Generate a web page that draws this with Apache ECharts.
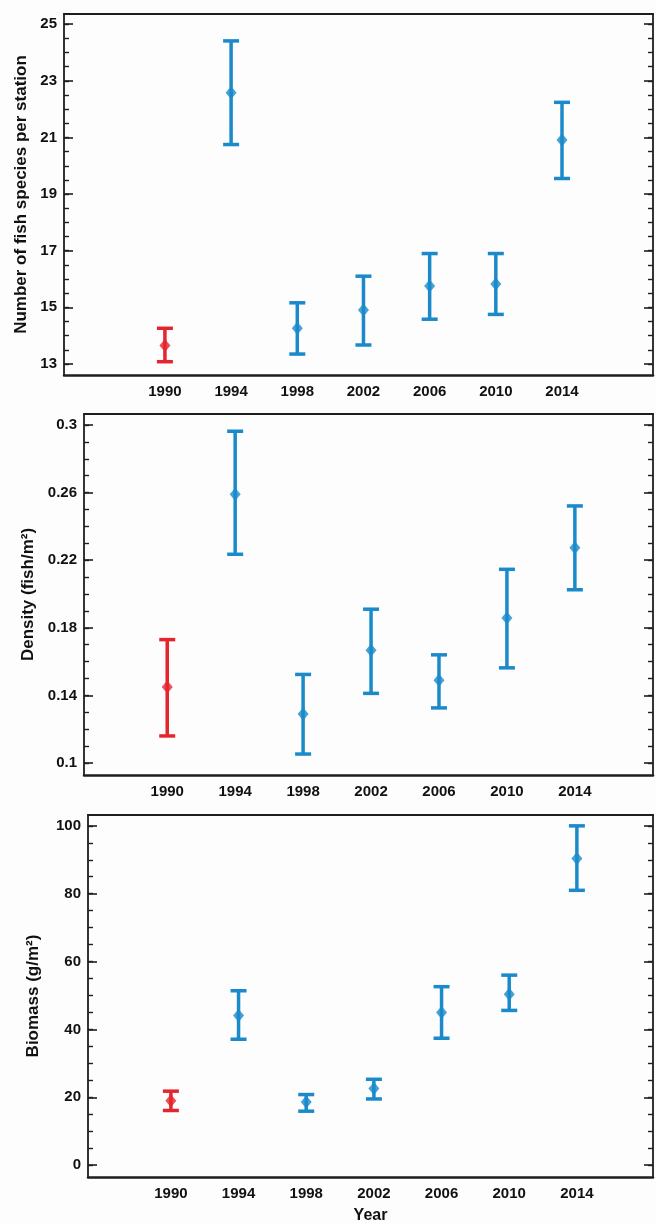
<!DOCTYPE html>
<html>
<head>
<meta charset="utf-8">
<script src="https://cdn.jsdelivr.net/npm/echarts@6/dist/echarts.min.js"></script>
<style>
  html, body { margin: 0; padding: 0; background: #fdfdfd; }
  #main { width: 656px; height: 1225px; }
</style>
</head>
<body>
<div id="main"></div>
<script>
// survey years (1990 = baseline, drawn in red)
var years = [1990, 1994, 1998, 2002, 2006, 2010, 2014];
var baselineYear = 1990;

// number of fish species per station: mean, lower, upper
var speciesMean = [13.65, 22.58, 14.26, 14.91, 15.75, 15.82, 20.91];
var speciesLow  = [13.08, 20.75, 13.35, 13.67, 14.58, 14.75, 19.55];
var speciesHigh = [14.26, 24.41, 15.16, 16.10, 16.90, 16.90, 22.24];

// density (fish/m2)
var densityMean = [0.145, 0.259, 0.129, 0.1667, 0.149, 0.1858, 0.2274];
var densityLow  = [0.116, 0.2235, 0.1053, 0.1412, 0.1326, 0.1563, 0.2025];
var densityHigh = [0.173, 0.2963, 0.1524, 0.191, 0.164, 0.2146, 0.2521];

// biomass (g/m2)
var biomassMean = [19.0, 44.1, 18.6, 22.6, 45.0, 50.4, 90.4];
var biomassLow  = [16.1, 37.1, 15.9, 19.5, 37.4, 45.6, 81.0];
var biomassHigh = [21.8, 51.4, 20.8, 25.3, 52.6, 56.0, 100.0];

// y tick labels
var speciesTicks = [13, 15, 17, 19, 21, 23, 25];
var densityTicks = [0.1, 0.14, 0.18, 0.22, 0.26, 0.3];
var biomassTicks = [0, 20, 40, 60, 80, 100];

var RED = '#e3262d';
var BLUE = '#1a8acb';
var AXIS = '#1e1e1e';
var FONT = '"Liberation Sans", Arial, sans-serif';

function colorFor(year) {
    return year === baselineYear ? RED : BLUE;
}

function minorValues(ticks, min, max) {
    var step = (ticks[1] - ticks[0]) / 4;
    var out = [];
    var start = ticks[0] - Math.floor((ticks[0] - min) / step) * step;
    for (var v = start; v <= max + 1e-9; v += step) {
        out.push(Math.round(v * 10000) / 10000);
    }
    return out;
}

var panels = [
    { name: 'Number of fish species per station', mean: speciesMean, low: speciesLow, high: speciesHigh,
      ticks: speciesTicks, yMin: 12.61, yMax: 25.36, xMin: 1983.9, xMax: 2019.5,
      left: 64, top: 14, height: 361, nameGap: 24 },
    { name: 'Density (fish/m\u00B2)', mean: densityMean, low: densityLow, high: densityHigh,
      ticks: densityTicks, yMin: 0.0929, yMax: 0.3065, xMin: 1985.1, xMax: 2018.6,
      left: 84, top: 414, height: 361, nameGap: 43 },
    { name: 'Biomass (g/m\u00B2)', mean: biomassMean, low: biomassLow, high: biomassHigh,
      ticks: biomassTicks, yMin: -3.5, yMax: 103.2, xMin: 1985.1, xMax: 2018.5,
      left: 88, top: 815, height: 362, nameGap: 46, xName: 'Year' }
];

var grids = [], xAxes = [], yAxes = [], series = [];

panels.forEach(function (p, i) {
    grids.push({ left: p.left, right: 3, top: p.top, height: p.height });

    // bottom axis with year labels
    xAxes.push({
        type: 'value', gridIndex: i, min: p.xMin, max: p.xMax,
        splitLine: { show: false },
        axisLine: { onZero: false, lineStyle: { color: AXIS, width: 2.5 } },
        axisTick: { show: false },
        axisLabel: { customValues: years, color: '#111', fontWeight: 'bold', fontSize: 15,
                     fontFamily: FONT, margin: 9,
                     formatter: function (v) { return String(v); } },
        name: p.xName || '', nameLocation: 'middle', nameGap: 31,
        nameTextStyle: { color: '#111', fontWeight: 'bold', fontSize: 16, fontFamily: FONT }
    });
    // top frame line
    xAxes.push({
        type: 'value', gridIndex: i, position: 'top', min: p.xMin, max: p.xMax,
        splitLine: { show: false }, axisTick: { show: false }, axisLabel: { show: false },
        axisLine: { show: true, onZero: false, lineStyle: { color: AXIS, width: 2 } }
    });

    var minors = minorValues(p.ticks, p.yMin, p.yMax);
    var base = { type: 'value', gridIndex: i, min: p.yMin, max: p.yMax, splitLine: { show: false } };

    // left major
    yAxes.push(Object.assign({}, base, {
        position: 'left',
        axisLine: { show: true, onZero: false, lineStyle: { color: AXIS, width: 1.8 } },
        axisTick: { show: true, inside: true, length: 9, customValues: p.ticks,
                    lineStyle: { color: AXIS, width: 1.6 } },
        axisLabel: { customValues: p.ticks, color: '#111', fontWeight: 'bold', fontSize: 15,
                     fontFamily: FONT, margin: 7 },
        name: p.name, nameLocation: 'middle', nameGap: p.nameGap, nameRotate: 90,
        nameTextStyle: { color: '#111', fontWeight: 'bold', fontSize: 17, fontFamily: FONT }
    }));
    // left minor
    yAxes.push(Object.assign({}, base, {
        position: 'left', axisLine: { show: false, onZero: false }, axisLabel: { show: false },
        axisTick: { show: true, inside: true, length: 5, customValues: minors,
                    lineStyle: { color: AXIS, width: 1.4 } }
    }));
    // right major
    yAxes.push(Object.assign({}, base, {
        position: 'right',
        axisLine: { show: true, onZero: false, lineStyle: { color: AXIS, width: 1.8 } },
        axisTick: { show: true, inside: true, length: 9, customValues: p.ticks,
                    lineStyle: { color: AXIS, width: 1.6 } },
        axisLabel: { show: false }
    }));
    // right minor
    yAxes.push(Object.assign({}, base, {
        position: 'right', axisLine: { show: false, onZero: false }, axisLabel: { show: false },
        axisTick: { show: true, inside: true, length: 5, customValues: minors,
                    lineStyle: { color: AXIS, width: 1.4 } }
    }));

    var barData = years.map(function (y, k) { return [y, p.low[k], p.high[k]]; });
    var meanData = years.map(function (y, k) { return [y, p.mean[k]]; });

    series.push({
        type: 'custom', xAxisIndex: i * 2, yAxisIndex: i * 4,
        data: barData, encode: { x: 0, y: [1, 2] }, silent: true,
        renderItem: function (params, api) {
            var yr = api.value(0);
            var lo = api.coord([yr, api.value(1)]);
            var hi = api.coord([yr, api.value(2)]);
            var hw = 8;
            var st = { stroke: colorFor(yr), lineWidth: 3.5 };
            return {
                type: 'group',
                children: [
                    { type: 'line', shape: { x1: lo[0], y1: lo[1], x2: hi[0], y2: hi[1] }, style: st },
                    { type: 'line', shape: { x1: hi[0] - hw, y1: hi[1], x2: hi[0] + hw, y2: hi[1] }, style: st },
                    { type: 'line', shape: { x1: lo[0] - hw, y1: lo[1], x2: lo[0] + hw, y2: lo[1] }, style: st }
                ]
            };
        }
    });
    series.push({
        type: 'scatter', xAxisIndex: i * 2, yAxisIndex: i * 4,
        data: meanData, symbol: 'diamond', symbolSize: [11, 13], silent: true,
        itemStyle: { color: function (d) { return colorFor(d.value[0]); } }
    });
});

var chart = echarts.init(document.getElementById('main'), null, { renderer: 'canvas' });
chart.setOption({
    backgroundColor: '#fdfdfd',
    animation: false,
    grid: grids,
    xAxis: xAxes,
    yAxis: yAxes,
    series: series
});
</script>
</body>
</html>
